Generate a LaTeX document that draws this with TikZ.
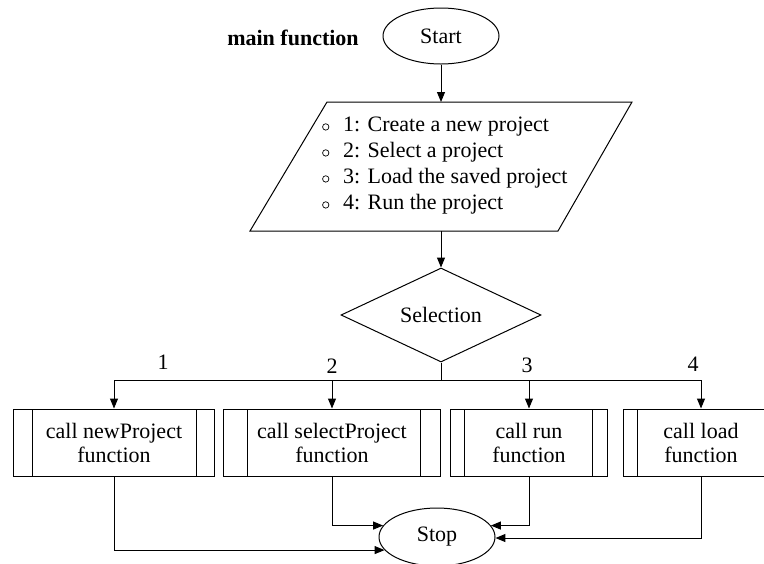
\documentclass[tikz,border=0pt]{standalone}
\usepackage{fontspec}
\setmainfont{Liberation Serif}
\usetikzlibrary{shapes.geometric,arrows.meta}
\newcommand\bulmark{\makebox[21pt][l]{\tikz[baseline=-5pt]{\draw[line width=0.7pt] (0pt,0pt) circle[radius=3.2pt];}}}
\tikzset{
 base/.style={font=\fontsize{22}{24}\selectfont},
 term/.style={draw, ellipse, minimum width=116pt, minimum height=56pt, inner sep=0pt, base},
 dec/.style={draw, diamond, aspect=2, minimum width=200pt, minimum height=94pt, inner sep=0pt, base},
 proc/.style n args={3}{draw, rectangle, minimum width=#1, minimum height=67pt, inner sep=0pt, align=center, base,
   path picture={\draw ([xshift=#2]path picture bounding box.north west) -- ([xshift=#2]path picture bounding box.south west);
                 \draw ([xshift=-#3]path picture bounding box.north east) -- ([xshift=-#3]path picture bounding box.south east);}},
 arr/.style={-{Triangle[length=10pt,width=8pt]}},
 lbl/.style={base, inner sep=0pt},
}
\begin{document}
\begin{tikzpicture}[x=1pt,y=-1pt,line width=1pt]
\useasboundingbox (0,0) rectangle (764,563);
\clip (0,0) rectangle (764,563);
% title and start
\node[lbl, font=\fontsize{22}{24}\selectfont\bfseries] (title) at (293,38) {main function};
\node[term] (start) at (441,36) {Start};
% input/output parallelogram
\coordinate (ptop) at (441,102);
\coordinate (pbot) at (441,231);
\draw (327,102) -- (632,102) -- (558,231) -- (250,231) -- cycle;
\node[lbl, font=\fontsize{22}{26}\selectfont, align=left, anchor=west] (menu) at (322,166)
 {\bulmark 1: Create a new project\\
  \bulmark 2: Select a project\\
  \bulmark 3: Load the saved project\\
  \bulmark 4: Run the project};
% decision
\node[dec] (sel) at (441,315) {Selection};
% processes
\node[proc={201pt}{19pt}{18pt}] (b1) at (114,442.5) {call newProject\\function};
\node[proc={217pt}{24pt}{20pt}] (b2) at (332,442.5) {call selectProject\\function};
\node[proc={157pt}{14pt}{15pt}] (b3) at (529,442.5) {call run\\function};
\node[proc={156pt}{14pt}{14pt}] (b4) at (701,442.5) {call load\\function};
% stop
\node[term, minimum height=58pt] (stop) at (437,537) {Stop};
% labels
\node[lbl] (l1) at (163,362) {1};
\node[lbl] (l2) at (332,366) {2};
\node[lbl] (l3) at (527,365) {3};
\node[lbl] (l4) at (693,364) {4};
% connectors
\draw[arr] (start.south) -- (ptop);
\draw[arr] (pbot) -- (sel.north);
\draw (sel.south) -- ++(0,18) coordinate (bus);
\draw[arr] (bus) -| (b1.north);
\draw[arr] (bus) -| (b2.north);
\draw[arr] (bus) -| (b3.north);
\draw[arr] (bus) -| (b4.north);
\draw[arr] (b1.south) |- (stop.194);
\draw[arr] (b2.south) |- (stop.168);
\draw[arr] (b3.south) |- (stop.12);
\draw[arr] (b4.south) |- (stop.359);
\end{tikzpicture}
\end{document}
